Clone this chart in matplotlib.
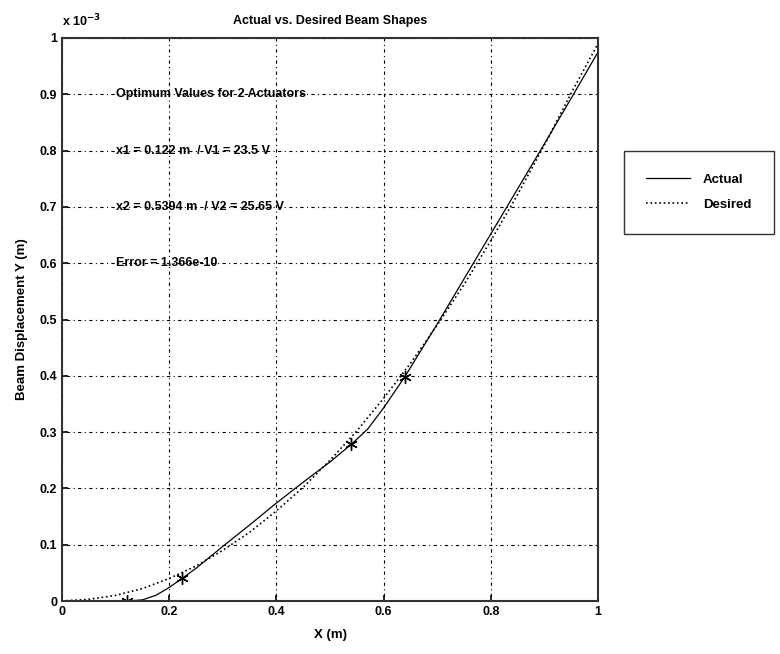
import matplotlib
matplotlib.use("Agg")
import matplotlib.pyplot as plt

plt.rcParams['font.family'] = ['Liberation Sans', 'DejaVu Sans']
plt.rcParams['font.weight'] = 'bold'
plt.rcParams['axes.titleweight'] = 'bold'
plt.rcParams['axes.labelweight'] = 'bold'

# Beam displacement values, in units of 1e-3 m
x_actual = [0.0, 0.122, 0.15, 0.175, 0.2, 0.224, 0.25, 0.3, 0.35, 0.4, 0.45, 0.5,
            0.5394, 0.57, 0.6, 0.6394, 0.7, 0.75, 0.8, 0.85, 0.9, 0.95, 1.0]
y_actual = [0.0, 0.0, 0.002, 0.01, 0.024, 0.04, 0.058, 0.097, 0.135, 0.174, 0.211, 0.247,
            0.278, 0.305, 0.343, 0.398, 0.492, 0.572, 0.652, 0.732, 0.812, 0.893, 0.975]

x_desired = [0.0, 0.05, 0.1, 0.15, 0.2, 0.25, 0.3, 0.35, 0.4, 0.45, 0.5,
             0.55, 0.6, 0.65, 0.7, 0.75, 0.8, 0.85, 0.9, 0.95, 1.0]
y_desired = [0.0, 0.003, 0.01, 0.022, 0.04, 0.062, 0.09, 0.122, 0.16, 0.202, 0.25,
             0.302, 0.36, 0.422, 0.49, 0.562, 0.64, 0.722, 0.81, 0.902, 0.99]

# actuator ends
x_act = [0.122, 0.224, 0.5394, 0.6394]
y_act = [0.0, 0.04, 0.278, 0.398]

notes = ["Optimum Values for 2 Actuators",
         "x1 = 0.122 m  / V1 = 23.5 V",
         "x2 = 0.5394 m  / V2 = 25.65 V",
         "Error = 1.366e-10"]
note_y = [0.9, 0.8, 0.7, 0.6]

fig = plt.figure(figsize=(7.8, 6.54), dpi=100)
ax = fig.add_axes([62/780, 1 - 601/654, 536/780, 563/654])

ax.plot(x_actual, y_actual, 'k-', lw=0.9, label='Actual')
ax.plot(x_desired, y_desired, 'k:', lw=1.2, label='Desired')
ax.plot(x_act, y_act, 'k', ls='none', marker=(6, 2, 0), ms=9, mew=1.0)

ax.set_xlim(0, 1)
ax.set_ylim(0, 1)
ax.set_xticks([0, 0.2, 0.4, 0.6, 0.8, 1])
ax.set_xticklabels(['0', '0.2', '0.4', '0.6', '0.8', '1'])
ax.set_yticks([i / 10 for i in range(11)])
ax.set_yticklabels(['0'] + ['%.1f' % (i / 10) for i in range(1, 10)] + ['1'])
ax.tick_params(direction='in', length=4, labelsize=9, width=1.2)
for s in ax.spines.values():
    s.set_linewidth(1.5)
    s.set_color('#333333')
ax.grid(True, color='k', linestyle=(0, (1, 3, 3, 3)), linewidth=0.8)

for t, yv in zip(notes, note_y):
    ax.text(0.1, yv, t, fontsize=9, va='center', ha='left')

ax.text(0.0, 1.015, r'x 10$^{-3}$', fontsize=9, transform=ax.transAxes, va='bottom')
ax.set_title('Actual vs. Desired Beam Shapes', fontsize=9, pad=10)
ax.set_xlabel('X (m)', fontsize=9.5, labelpad=8)
ax.set_ylabel('Beam Displacement Y (m)', fontsize=9.5, labelpad=8)

leg = fig.legend(loc='upper left', bbox_to_anchor=(624/780, 1 - 151/654),
                 borderaxespad=0, fontsize=9.5, frameon=True, fancybox=False,
                 edgecolor='k', borderpad=1.7, handlelength=3.3, handletextpad=1.0,
                 labelspacing=1.0)
leg.get_frame().set_linewidth(1.0)

fig.savefig('out.png', dpi=100)
